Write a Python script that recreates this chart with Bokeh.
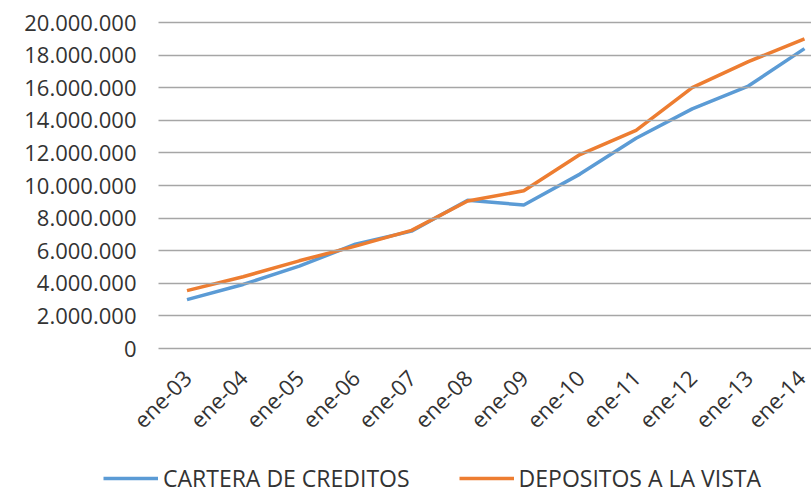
import math
from bokeh.plotting import figure
from bokeh.models import Range1d, FixedTicker, Legend, LegendItem
from bokeh.embed import file_html
from bokeh.resources import INLINE

categories = ["ene-03", "ene-04", "ene-05", "ene-06", "ene-07", "ene-08",
              "ene-09", "ene-10", "ene-11", "ene-12", "ene-13", "ene-14"]
cartera = [3000000, 3930000, 5050000, 6400000, 7200000, 9100000,
           8800000, 10700000, 12900000, 14700000, 16100000, 18400000]
depositos = [3550000, 4400000, 5380000, 6280000, 7250000, 9050000,
             9680000, 11900000, 13380000, 16000000, 17600000, 19000000]
y_ticks = [0, 2000000, 4000000, 6000000, 8000000, 10000000,
           12000000, 14000000, 16000000, 18000000, 20000000]
y_tick_labels = ["0", "2.000.000", "4.000.000", "6.000.000", "8.000.000", "10.000.000",
                 "12.000.000", "14.000.000", "16.000.000", "18.000.000", "20.000.000"]

x = list(range(len(categories)))

FONT = "Open Sans"
TXT = "#333333"
GRID = "#a6a6a6"

# whole canvas is the frame; axes are pinned at data locations
X_LEFT = -0.508       # left edge of the plotting area (data units)
p = figure(width=811, height=494, output_backend="svg", toolbar_location=None,
           x_range=Range1d(-3.322, 11.125), y_range=Range1d(-8957000, 21350000),
           min_border_left=0, min_border_right=0, min_border_top=0,
           min_border_bottom=0)
p.outline_line_color = None
p.xgrid.visible = False
p.ygrid.visible = False

r1 = p.line(x, cartera, line_color="#5B9BD5", line_width=3.5)
r2 = p.line(x, depositos, line_color="#ED7D31", line_width=3.5)

# y axis: tick lines drawn across the plot act as horizontal gridlines
p.yaxis.fixed_location = X_LEFT
p.yaxis.bounds = (0, 20000000)
p.yaxis.ticker = FixedTicker(ticks=y_ticks)
p.yaxis.major_label_overrides = dict(zip(y_ticks, y_tick_labels))
p.yaxis.axis_line_color = None
p.yaxis.major_tick_line_color = GRID
p.yaxis.major_tick_line_width = 1.5
p.yaxis.major_tick_in = 653
p.yaxis.major_tick_out = 0
p.yaxis.minor_tick_line_color = None
p.yaxis.major_label_standoff = 22
p.yaxis.major_label_text_font = FONT
p.yaxis.major_label_text_font_size = "22px"
p.yaxis.major_label_text_color = TXT

p.xaxis.fixed_location = 0
p.xaxis.ticker = FixedTicker(ticks=x)
p.xaxis.major_label_overrides = dict(zip(x, categories))
p.xaxis.major_label_orientation = math.pi / 4
p.xaxis.axis_line_color = None
p.xaxis.major_tick_line_color = None
p.xaxis.minor_tick_line_color = None
p.xaxis.major_label_standoff = 19
p.xaxis.major_label_text_font = FONT
p.xaxis.major_label_text_font_size = "22px"
p.xaxis.major_label_text_color = TXT

legend = Legend(items=[LegendItem(label="CARTERA DE CREDITOS", renderers=[r1]),
                       LegendItem(label="DEPOSITOS A LA VISTA", renderers=[r2])],
                orientation="horizontal", location=(103, 0),
                glyph_width=55, glyph_height=20, label_standoff=5, spacing=49,
                padding=0, margin=0, border_line_color=None, background_fill_alpha=0,
                label_text_font=FONT, label_text_font_size="23px",
                label_text_color=TXT)
p.add_layout(legend)

open("out.html", "w").write(file_html(p, INLINE))
